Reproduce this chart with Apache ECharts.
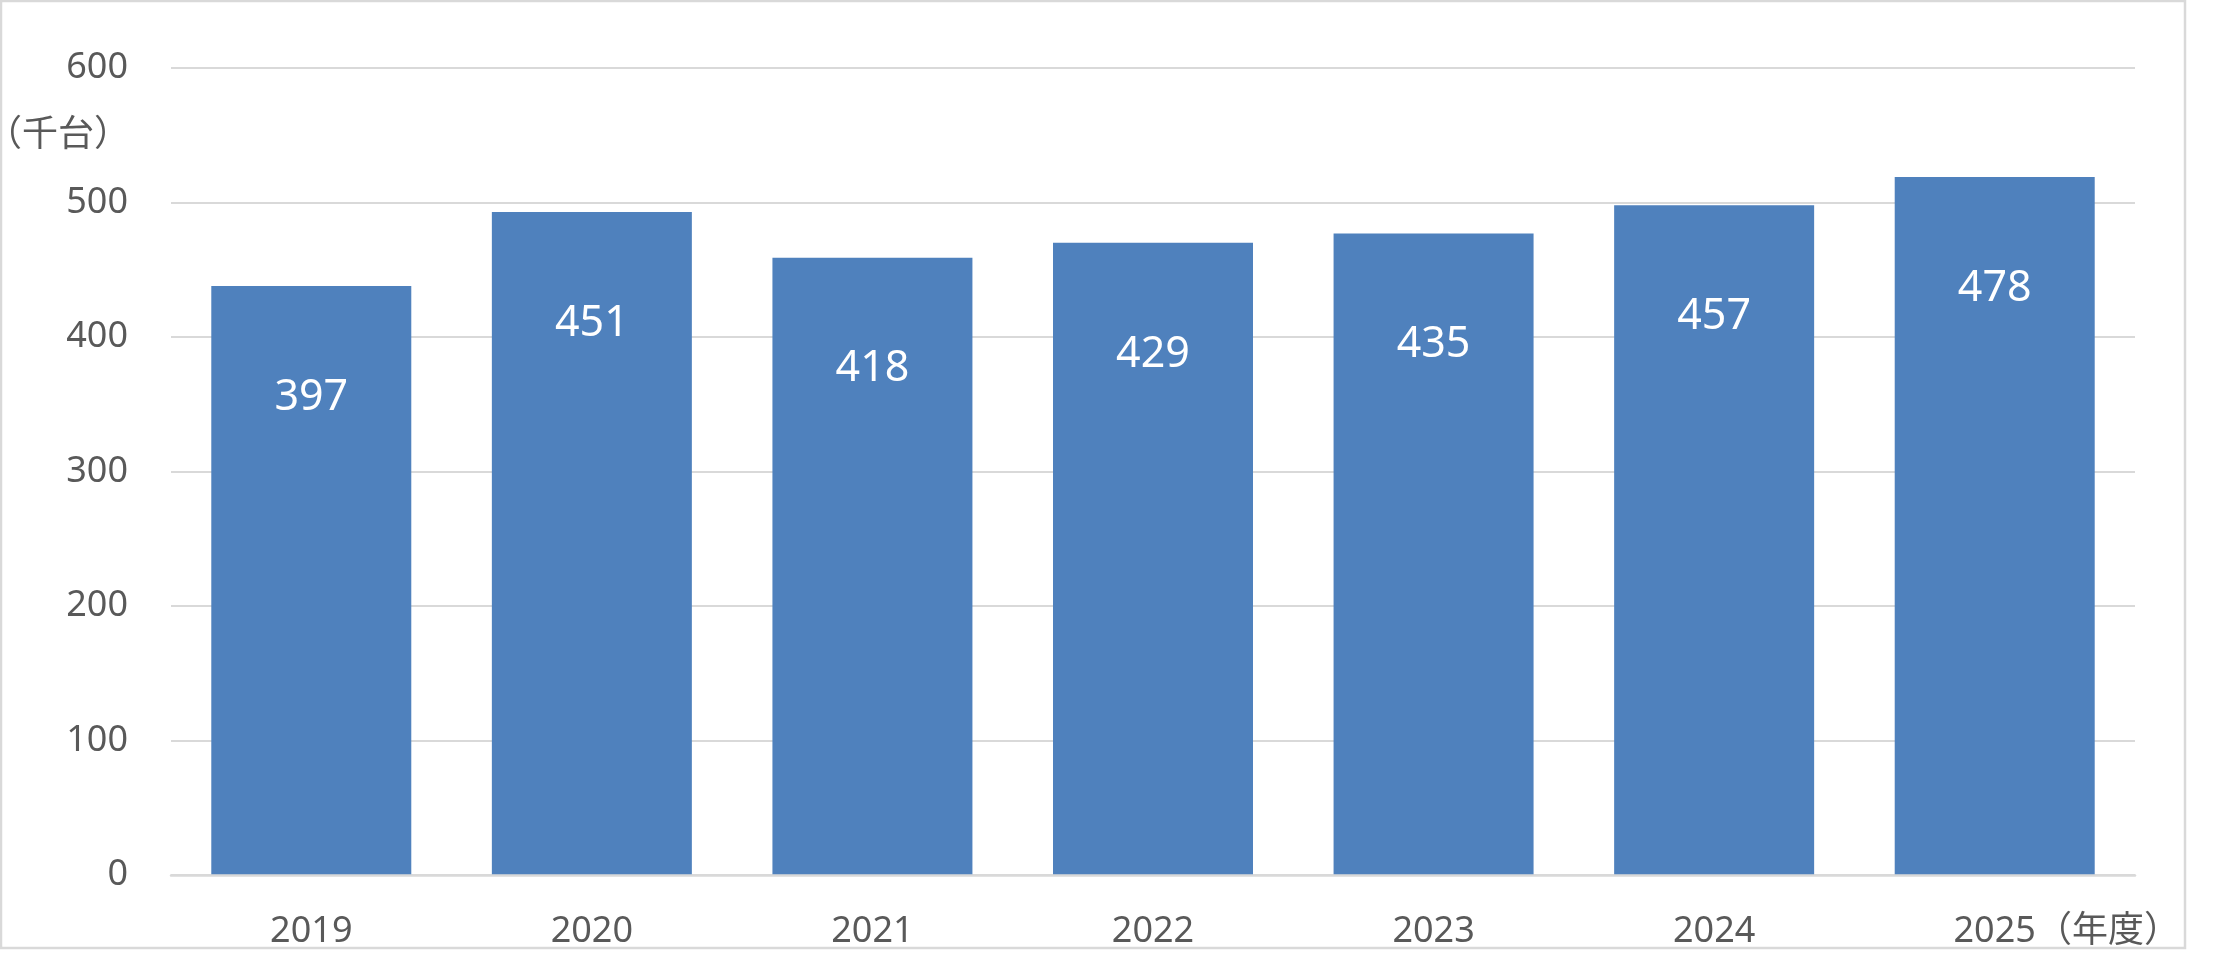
<!DOCTYPE html>
<html>
<head>
<meta charset="utf-8">
<script src="https://cdn.jsdelivr.net/npm/echarts@6/dist/echarts.min.js"></script>
<style>
html,body{margin:0;padding:0;background:#fff;}
#c{width:2220px;height:980px;}
</style>
</head>
<body>
<div id="c"></div>
<script>
// Data
const categories = ['2019', '2020', '2021', '2022', '2023', '2024', '2025'];
const barHeights = [438, 493, 459, 470, 477, 498, 519];    // bar tops as drawn on the axis
const labelValues = [397, 451, 418, 429, 435, 457, 478];   // values printed in the bars (千台)
const belowZero = [-2, -2, -2, -2, -2, -2, -2];            // thin sliver below the axis
const yTicks = [0, 100, 200, 300, 400, 500, 600];
const yUnit = '（千台）';
const xUnit = '（年度）';

const FONT = "'Noto Sans', 'Noto Sans CJK JP', sans-serif";
const BLUE = '#4f81bd';
const chart = echarts.init(document.getElementById('c'));

chart.setOption({
  animation: false,
  backgroundColor: '#ffffff',
  grid: { left: 171, right: 85, top: 68, bottom: 105, containLabel: false },
  xAxis: {
    type: 'category',
    data: categories,
    z: 3,
    axisTick: { show: false },
    axisLine: { show: true, onZero: true, lineStyle: { color: '#d9d9d9', width: 2.5 } },
    axisLabel: {
      interval: 0,
      margin: 39,
      color: '#595959',
      fontSize: 36,
      fontFamily: FONT,
      formatter: function (v, i) {
        return i === categories.length - 1 ? '{pad|}' + v + '{u|' + xUnit + '}' : v;
      },
      rich: {
        pad: { width: 144, fontSize: 36, fontFamily: FONT },
        u: { fontSize: 36, color: '#595959', fontFamily: FONT }
      }
    }
  },
  yAxis: {
    type: 'value',
    min: yTicks[0],
    max: yTicks[yTicks.length - 1],
    interval: 100,
    z: 0,
    axisLine: { show: false },
    axisTick: { show: false },
    axisLabel: { margin: 43, color: '#595959', fontSize: 36, fontFamily: FONT },
    splitLine: { show: true, lineStyle: { color: '#d9d9d9', width: 2 } }
  },
  graphic: [
    {
      type: 'rect', silent: true, z: -10,
      shape: { x: 1, y: 1, width: 2184, height: 947 },
      style: { fill: 'none', stroke: '#d9d9d9', lineWidth: 2.5 }
    },
    {
      type: 'text', silent: true,
      x: 130, y: 136,
      style: { text: yUnit, fill: '#595959', fontSize: 36, fontFamily: FONT, align: 'right', verticalAlign: 'middle' }
    }
  ],
  series: [
    {
      type: 'bar', stack: 't', data: barHeights, barWidth: 200,
      itemStyle: { color: BLUE },
      label: {
        show: true, position: 'insideTop', distance: 90,
        color: '#ffffff', fontSize: 43, fontFamily: FONT,
        formatter: function (p) { return String(labelValues[p.dataIndex]); }
      }
    },
    {
      type: 'bar', stack: 't', data: belowZero, barWidth: 200,
      itemStyle: { color: BLUE }
    }
  ]
});
</script>
</body>
</html>
